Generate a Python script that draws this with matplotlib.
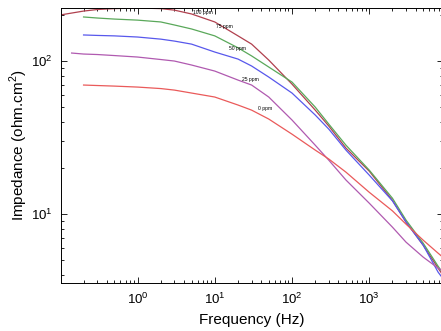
import matplotlib
matplotlib.use('Agg')
import matplotlib.pyplot as plt
from matplotlib.ticker import LogLocator, NullFormatter

plt.rcParams['font.family'] = ['Liberation Sans', 'DejaVu Sans']
plt.rcParams['mathtext.fontset'] = 'custom'
plt.rcParams['mathtext.rm'] = 'Liberation Sans'

# frequency grid (Hz)
freq = [0.1, 0.2, 0.3, 0.5, 1, 2, 3, 5, 10, 20, 30, 50, 100, 200, 300, 500,
        1000, 2000, 3000, 5000, 7800, 10000]

# impedance (ohm.cm2)
z_100 = [200, 212, 217, 220, 222, 220, 215, 203, 180, 146, 129, 101.5, 70.7,
         47.8, 37.6, 27.0, 19.1, 12.3, 8.87, 6.27, 4.44, 3.70]
z_75 = [194, 191, 188, 185, 180, 172, 162, 146, 122, 108, 91.4, 72.9, 50.0,
        38.7, 28.2, 19.4, 12.7, 9.14, 6.46, 4.57, 3.82]
z_50 = [148, 147, 146, 143.5, 139, 135, 129, 114.5, 103, 92.8, 78.6, 61.8,
        44.4, 35.9, 26.2, 18.0, 12.2, 8.87, 6.27, 4.18, 3.54]
z_25 = [112.8, 111.1, 110.3, 108.6, 106.2, 102.3, 100, 94.2, 86.0, 75.1, 69.7,
        58.2, 41.2, 28.2, 22.5, 16.7, 11.8, 8.22, 6.56, 5.24, 4.44, 4.12]
z_0 = [69.7, 69.2, 68.6, 67.6, 66.1, 64.6, 61.8, 58.2, 51.6, 47.8, 41.8, 33.3,
       26.2, 22.9, 18.8, 13.9, 10.5, 8.60, 6.76, 5.56, 5.00]

freq_25 = [0.14] + freq[1:]

series = [
    ('100 ppm', freq, z_100, '#b0404e'),
    ('75 ppm', freq[1:], z_75, '#5aa85a'),
    ('50 ppm', freq[1:], z_50, '#5858ec'),
    ('25 ppm', freq_25, z_25, '#b05ab0'),
    ('0 ppm', freq[1:], z_0, '#ea5a5a'),
]

# where the small curve labels sit (data coords)
label_pos = [(7.1, 206), (13.3, 167), (19.7, 121.6), (29, 76.3), (45.3, 49.3)]

fig = plt.figure(figsize=(4.41, 3.31), dpi=100)
# right spine sits just past the image edge, like the cropped original
ax = fig.add_axes([0.1383, 0.145, 0.866, 0.8308])

for (name, f, z, c), (lx, ly) in zip(series, label_pos):
    ax.plot(f, z, color=c, linewidth=0.9)
    ax.text(lx, ly, name, fontsize=3.6, ha='center', va='center')

ax.set_xscale('log')
ax.set_yscale('log')
ax.set_xlim(0.102, 9000)
ax.set_ylim(3.55, 222)

ax.xaxis.set_major_locator(LogLocator(base=10, numticks=10))
ax.yaxis.set_major_locator(LogLocator(base=10, numticks=10))
ax.xaxis.set_minor_locator(LogLocator(base=10, subs=range(2, 10), numticks=20))
ax.yaxis.set_minor_locator(LogLocator(base=10, subs=range(2, 10), numticks=20))
ax.xaxis.set_minor_formatter(NullFormatter())
ax.yaxis.set_minor_formatter(NullFormatter())

ax.tick_params(which='both', direction='in', top=True, right=True,
               labelsize=9.5, width=0.6)
ax.tick_params(which='major', length=4)
ax.tick_params(which='minor', length=2)
ax.tick_params(axis='x', pad=6.5)
ax.tick_params(axis='y', pad=6)
for s in ax.spines.values():
    s.set_linewidth(0.7)

ax.set_xlabel('Frequency (Hz)', fontsize=11, labelpad=4)
ax.set_ylabel('Impedance (ohm.cm$^2$)', fontsize=11, labelpad=1)

fig.savefig('out.png', dpi=100)
